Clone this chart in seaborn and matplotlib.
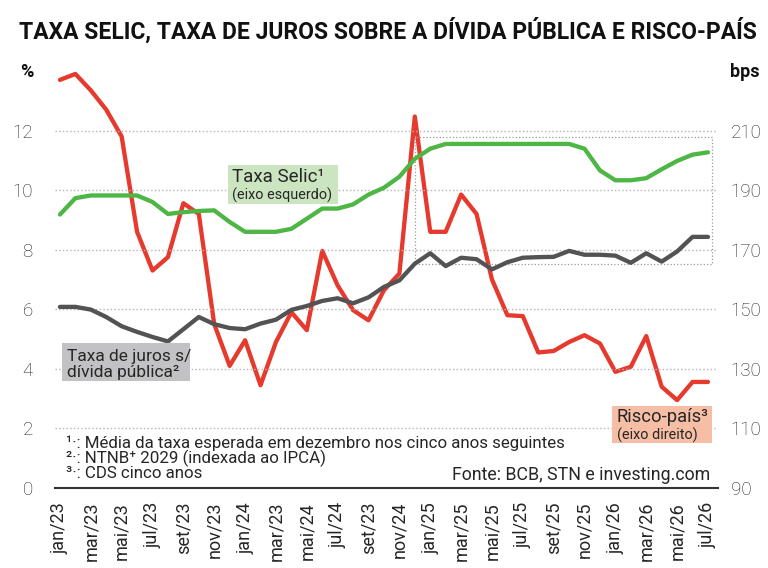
import pandas as pd
import seaborn as sns
import matplotlib.pyplot as plt
from matplotlib.patches import Rectangle

# monthly series, jan/23 .. jul/26
selic = [9.18, 9.73, 9.82, 9.82, 9.82, 9.82, 9.60, 9.20, 9.26, 9.30, 9.32,
         8.93, 8.60, 8.60, 8.60, 8.70, 9.04, 9.38, 9.38, 9.52, 9.85, 10.08,
         10.45, 11.05, 11.39, 11.55, 11.55, 11.55, 11.55, 11.55, 11.55, 11.55,
         11.55, 11.55, 11.39, 10.66, 10.33, 10.33, 10.40, 10.70, 10.98, 11.19,
         11.27]
juros = [6.08, 6.08, 5.99, 5.74, 5.43, 5.24, 5.07, 4.92, 5.33, 5.74, 5.50,
         5.37, 5.33, 5.52, 5.65, 5.98, 6.11, 6.28, 6.37, 6.20, 6.40, 6.75,
         6.97, 7.53, 7.88, 7.45, 7.73, 7.68, 7.34, 7.58, 7.73, 7.75, 7.76,
         7.96, 7.83, 7.83, 7.80, 7.56, 7.88, 7.60, 7.94, 8.43, 8.43]
risco = [227, 229, 223.5, 217, 208, 176, 163, 167.5, 185.6, 182, 145,
         131, 139.6, 124.5, 139, 149, 143, 169.6, 158, 149.7, 146.3, 156.4,
         162, 214.7, 176, 176, 188.5, 182, 160, 148, 147.7, 135.5, 136,
         139, 141.3, 138.5, 129, 130.7, 141, 124, 119.5, 125.6, 125.6]

tick_labels = ['jan/23', 'mar/23', 'mai/23', 'jul/23', 'set/23', 'nov/23',
               'jan/24', 'mar/23', 'mai/24', 'jul/24', 'set/23', 'nov/24',
               'jan/25', 'mar/25', 'mai/25', 'jul/25', 'set/25', 'nov/25',
               'jan/26', 'mar/26', 'mai/26', 'jul/26']
left_ticks = [0, 2, 4, 6, 8, 10, 12]
right_ticks = [90, 110, 130, 150, 170, 190, 210]

RED = '#e53a2d'
GREEN = '#4db645'
GRAY = '#535353'
TXT = '#262626'

df = pd.DataFrame({'mes': range(len(selic)), 'selic': selic,
                   'juros': juros, 'risco': risco})

sns.set_theme(style='white')
plt.rcParams['font.family'] = ['Roboto', 'DejaVu Sans']

W, H = 768, 568
fig = plt.figure(figsize=(W / 100, H / 100), dpi=100)
ax = fig.add_axes([55 / W, 1 - 488 / H, (718 - 55) / W, (488 - 65) / H])
ax2 = ax.twinx()

sns.lineplot(data=df, x='mes', y='risco', ax=ax2, color=RED, lw=3.1)
sns.lineplot(data=df, x='mes', y='selic', ax=ax, color=GREEN, lw=3.1)
sns.lineplot(data=df, x='mes', y='juros', ax=ax, color=GRAY, lw=3.1)

# left axis drawn over the right one
ax.set_zorder(ax2.get_zorder() + 1)
ax.patch.set_visible(False)

ax.set_xlim(-0.32, 42.65)
ax.set_ylim(0, 14.2)
ax2.set_ylim(90, 232)

ax.set_yticks(left_ticks)
ax2.set_yticks(right_ticks)
ax.set_xticks(range(0, len(selic), 2))
ax.set_xticklabels(tick_labels, rotation=90)

ax.tick_params(axis='y', length=0, pad=16, labelsize=13.5, labelcolor=TXT)
ax2.tick_params(axis='y', length=0, pad=9, labelsize=13.5, labelcolor=TXT)
ax.tick_params(axis='x', length=0, pad=10, labelsize=13, labelcolor=TXT)
for lab in ax.get_yticklabels() + ax2.get_yticklabels():
    lab.set_fontweight('light')

ax.set_xlabel('')
ax.set_ylabel('')
ax2.set_ylabel('')

ax.yaxis.grid(True, ls=':', color='#b5b5b5', lw=1.0)
ax.xaxis.grid(False)
for a in (ax, ax2):
    for s in a.spines.values():
        s.set_visible(False)
ax.spines['bottom'].set_visible(True)
ax.spines['bottom'].set_color('#333333')
ax.spines['bottom'].set_linewidth(1.5)

# dotted highlight box, jan/25 .. jul/26
ax.add_patch(Rectangle((23, 7.53), 42.23 - 23, 11.78 - 7.53, fill=False,
                       ls=':', lw=0.9, ec='#9a9a9a', zorder=1))


def fx(x):
    return x / W


def fy(y):
    return 1 - y / H


def box(x0, y0, x1, y1, color):
    fig.add_artist(Rectangle((fx(x0), fy(y1)), (x1 - x0) / W, (y1 - y0) / H,
                             transform=fig.transFigure, fc=color, ec='none',
                             zorder=2))


fig.text(fx(19), fy(38.5), 'TAXA SELIC, TAXA DE JUROS SOBRE A DÍVIDA PÚBLICA E RISCO-PAÍS',
         fontsize=16.45, fontweight='bold', color='#111111', va='baseline')
fig.text(fx(20), fy(77), '%', fontsize=13, fontweight='bold', color='#111111')
fig.text(fx(730), fy(77), 'bps', fontsize=13, fontweight='bold', color='#111111')

box(228, 165, 338, 204, '#cbe5c1')
fig.text(fx(232), fy(182), 'Taxa Selic¹', fontsize=13.5, color=TXT, zorder=3)
fig.text(fx(232), fy(200), '(eixo esquerdo)', fontsize=10.4, color=TXT, zorder=3)

box(62, 343, 190, 381, '#c2c2c4')
fig.text(fx(67), fy(361), 'Taxa de juros s/', fontsize=12.5, color=TXT, zorder=3)
fig.text(fx(67), fy(377), 'dívida pública²', fontsize=12.5, color=TXT, zorder=3)

box(612, 406, 712, 443, '#f6bea5')
fig.text(fx(617), fy(422), 'Risco-país³', fontsize=13.2, color=TXT, zorder=3)
fig.text(fx(617), fy(440), '(eixo direito)', fontsize=10.4, color=TXT, zorder=3)

notes = ['¹·: Média da taxa esperada em dezembro nos cinco anos seguintes',
         '²·: NTNB⁺ 2029 (indexada ao IPCA)',
         '³·: CDS cinco anos']
for i, n in enumerate(notes):
    fig.text(fx(66), fy(448 + 15 * i), n, fontsize=12.2, color=TXT)
fig.text(fx(710), fy(480), 'Fonte: BCB, STN e investing.com', fontsize=12.8,
         color=TXT, ha='right')

fig.savefig('out.png', dpi=100)
